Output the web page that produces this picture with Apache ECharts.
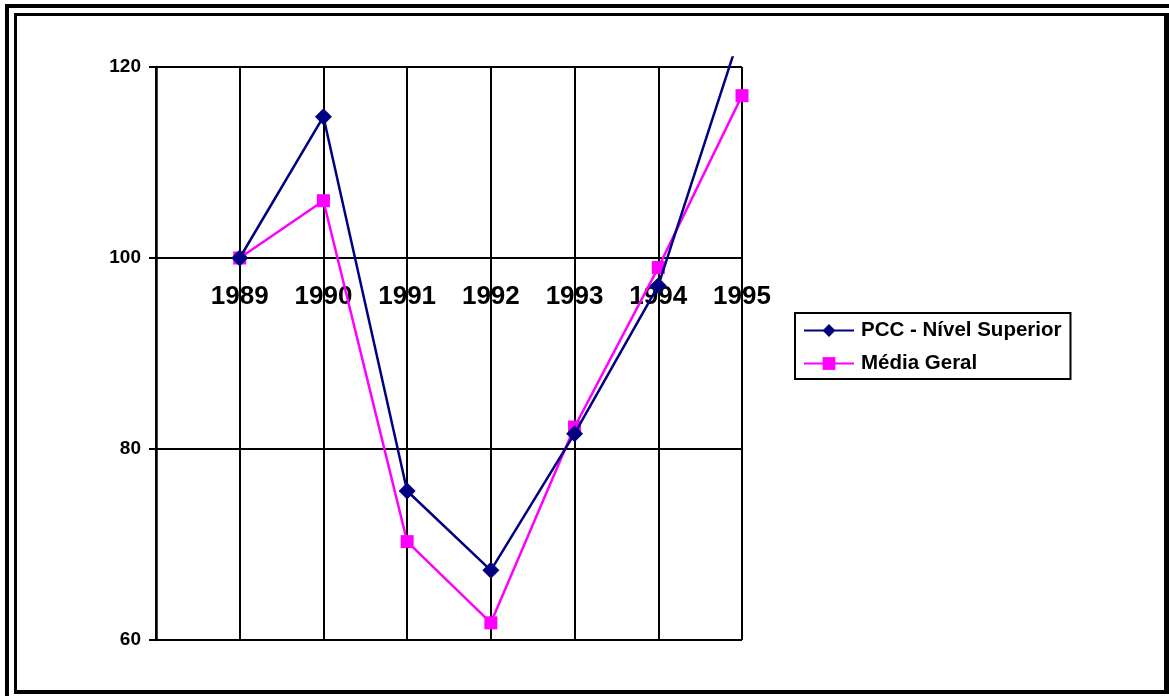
<!DOCTYPE html>
<html>
<head>
<meta charset="utf-8">
<script src="https://cdn.jsdelivr.net/npm/echarts@6/dist/echarts.min.js"></script>
<style>
  html, body { margin: 0; padding: 0; background: #fff; }
  #chart { width: 1169px; height: 696px; }
</style>
</head>
<body>
<div id="chart"></div>
<script>
// ---- data ----
const years = [1989, 1990, 1991, 1992, 1993, 1994, 1995];
const pccNivelSuperior = [100, 114.8, 75.6, 67.3, 81.6, 97.1, 124.1];
const mediaGeral = [100, 106.0, 70.3, 61.8, 82.3, 99.0, 117.0];
const yTicks = [60, 80, 100, 120];
const seriesNames = ['PCC - Nível Superior', 'Média Geral'];

const FONT = 'Arial, "Liberation Sans", sans-serif';
const toPairs = (vals) => years.map((y, i) => [y, vals[i]]);

const chart = echarts.init(document.getElementById('chart'), null, { renderer: 'canvas' });

const gridLeft = 156, gridRight = 427, gridTop = 67, gridBottom = 56;
const unitPx = (696 - gridTop - gridBottom) / (yTicks[yTicks.length - 1] - yTicks[0]);
const clipMax = 121;

chart.setOption({
  animation: false,
  backgroundColor: '#fff',
  textStyle: { fontFamily: FONT },
  grid: [
    { left: gridLeft, right: gridRight, top: gridTop, bottom: gridBottom, containLabel: false },
    { left: gridLeft, right: gridRight, top: gridTop - (clipMax - yTicks[yTicks.length - 1]) * unitPx, bottom: gridBottom, containLabel: false }
  ],
  xAxis: [
    {
      gridIndex: 0, type: 'value', min: years[0] - 1, max: years[years.length - 1], interval: 1,
      position: 'bottom',
      offset: -((100 - yTicks[0]) * unitPx),
      axisLine: { show: false },
      axisTick: { show: false },
      axisLabel: {
        show: true, fontSize: 26, fontWeight: 'bold', color: '#000', fontFamily: FONT, margin: 26,
        formatter: (v) => (years.indexOf(v) >= 0 ? String(v) : '')
      },
      splitLine: { show: true, lineStyle: { color: '#000', width: 2 } }
    },
    {
      gridIndex: 1, type: 'value', min: years[0] - 1, max: years[years.length - 1], interval: 1,
      show: false
    }
  ],
  yAxis: [
    {
      gridIndex: 0, type: 'value', min: yTicks[0], max: yTicks[yTicks.length - 1], interval: 20,
      axisLine: { show: true, lineStyle: { color: '#000', width: 2.5 } },
      axisTick: { show: true, length: 7, lineStyle: { color: '#000', width: 2 } },
      axisLabel: { fontSize: 19, fontWeight: 'bold', color: '#000', fontFamily: FONT, margin: 15 },
      splitLine: { show: true, lineStyle: { color: '#000', width: 2 } }
    },
    {
      gridIndex: 1, type: 'value', min: yTicks[0], max: clipMax, show: false,
      splitLine: { show: false }
    }
  ],
  legend: {
    orient: 'vertical',
    left: 795, top: 313,
    data: seriesNames,
    itemWidth: 50, itemHeight: 16,
    itemGap: 12,
    padding: [7, 9, 5, 8],
    borderColor: '#000', borderWidth: 2,
    textStyle: { fontSize: 20.5, fontWeight: 'bold', color: '#000', fontFamily: FONT, padding: [0, 0, 0, 2] }
  },
  series: [
    {
      name: seriesNames[0], type: 'line', xAxisIndex: 1, yAxisIndex: 1,
      data: toPairs(pccNivelSuperior),
      symbol: 'diamond', symbolSize: 17,
      itemStyle: { color: '#000080' },
      lineStyle: { color: '#000080', width: 2.5 },
      clip: true, z: 3
    },
    {
      name: seriesNames[1], type: 'line', xAxisIndex: 1, yAxisIndex: 1,
      data: toPairs(mediaGeral),
      symbol: 'rect', symbolSize: 13,
      itemStyle: { color: '#FF00FF' },
      lineStyle: { color: '#FF00FF', width: 2.5 },
      clip: true, z: 2
    }
  ],
  graphic: [
    { type: 'rect', shape: { x: 5, y: 4, width: 1164, height: 4 }, style: { fill: '#000' }, silent: true, z: 100 },
    { type: 'rect', shape: { x: 5, y: 4, width: 4, height: 692 }, style: { fill: '#000' }, silent: true, z: 100 },
    { type: 'rect', shape: { x: 14, y: 13, width: 1155, height: 3 }, style: { fill: '#000' }, silent: true, z: 100 },
    { type: 'rect', shape: { x: 14, y: 13, width: 3, height: 681 }, style: { fill: '#000' }, silent: true, z: 100 },
    { type: 'rect', shape: { x: 1164, y: 13, width: 5, height: 681 }, style: { fill: '#000' }, silent: true, z: 100 },
    { type: 'rect', shape: { x: 14, y: 690, width: 1155, height: 4 }, style: { fill: '#000' }, silent: true, z: 100 }
  ]
});
</script>
</body>
</html>
